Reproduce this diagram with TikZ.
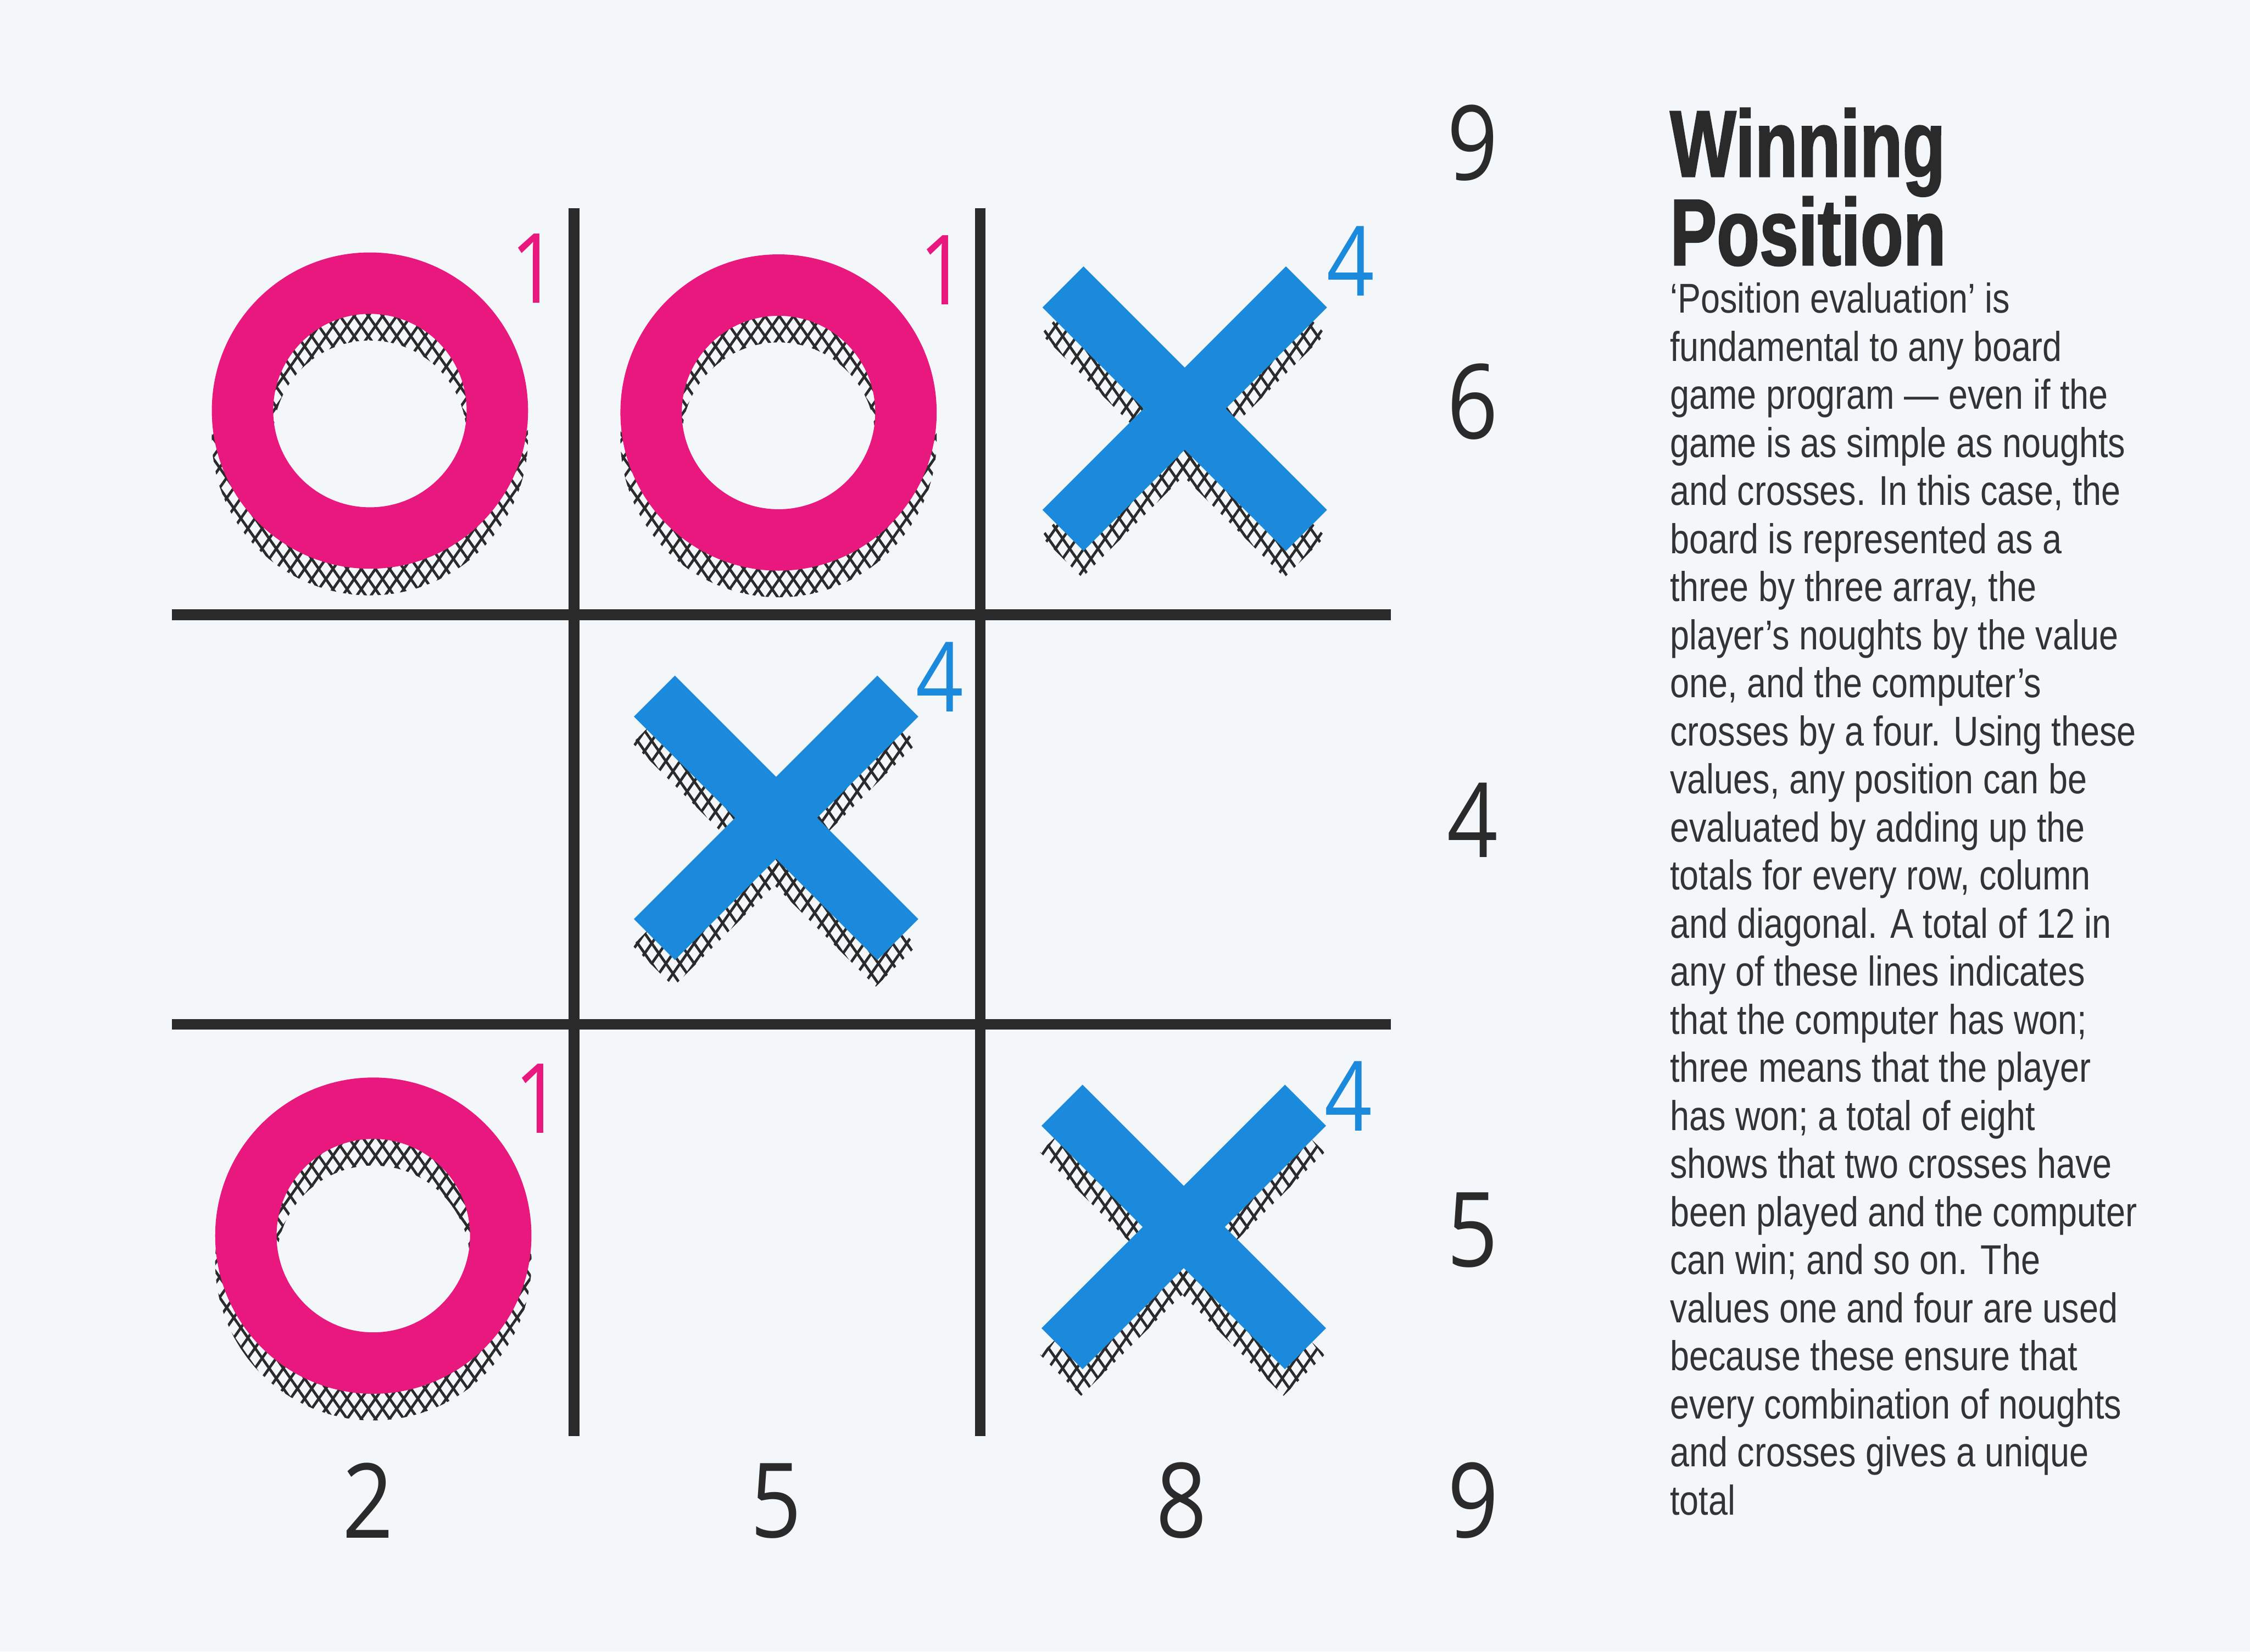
\documentclass[tikz,border=0pt]{standalone}
\usepackage{fontspec}
\usetikzlibrary{patterns.meta}
\setmainfont{Liberation Sans}
\newfontfamily\bodyfont[FakeStretch=0.83]{Liberation Sans}
\newfontfamily\titlefont[FakeStretch=0.74,FakeBold=1.5]{Liberation Sans}
\newfontfamily\digitfont[FakeStretch=0.86]{Open Sans}
\definecolor{bg}{HTML}{F3F7F9}
\definecolor{opink}{HTML}{E8187F}
\definecolor{xblue}{HTML}{1C8ADC}
\definecolor{ink}{HTML}{2A2A2A}
\definecolor{textink}{HTML}{333333}
\tikzset{
  gridline/.style={line width=0.22cm, draw=ink, line cap=butt},
  hatchA/.style={pattern={Lines[angle=55,distance=0.24cm,line width=0.055cm]}, pattern color=ink},
  hatchB/.style={pattern={Lines[angle=-55,distance=0.24cm,line width=0.055cm]}, pattern color=ink},
  noughtpic/.pic={
    \fill[hatchA, even odd rule] (0,-0.55) circle (3.27) (0,-0.55) circle (2.0);
    \fill[hatchB, even odd rule] (0,-0.55) circle (3.27) (0,-0.55) circle (2.0);
    \fill[opink, even odd rule] (0,0) circle (3.27) (0,0) circle (2.0);
  },
  crosspic/.pic={
    \begin{scope}[shift={(-0.03,-0.55)}]
      \foreach \a in {45,-45} {
        \fill[hatchA, rotate=\a] (-3.56,-0.6) rectangle (3.56,0.6);
        \fill[hatchB, rotate=\a] (-3.56,-0.6) rectangle (3.56,0.6);
      }
    \end{scope}
    \foreach \a in {45,-45} \fill[xblue, rotate=\a] (-3.56,-0.6) rectangle (3.56,0.6);
  },
  bigdigit/.style={inner sep=0, text=ink, font={\digitfont\fontsize{61}{70}\selectfont}},
  pinklabel/.style={inner sep=0, text=opink, font={\digitfont\fontsize{57}{65}\selectfont}},
  bluelabel/.style={inner sep=0, text=xblue, font={\digitfont\fontsize{57}{65}\selectfont}},
  titletext/.style={inner sep=0, anchor=base west, text=ink, font={\titlefont\bfseries\fontsize{55.6}{60}\selectfont}},
  bodytext/.style={inner sep=0, anchor=base west, text=textink, font={\bodyfont\fontsize{24.5}{28}\selectfont}}
}
\begin{document}
\begin{tikzpicture}
\useasboundingbox (0,0) rectangle (46.53,-34.15);
\fill[bg] (0,0) rectangle (46.53,-34.15);

% board
\draw[gridline] (11.87,-4.30) -- (11.87,-29.70);
\draw[gridline] (20.27,-4.30) -- (20.27,-29.70);
\draw[gridline] (3.56,-12.71) -- (28.76,-12.71);
\draw[gridline] (3.56,-21.18) -- (28.76,-21.18);

% pieces
\pic (o1) at (7.65,-8.49) {noughtpic};
\pic (o2) at (16.10,-8.53) {noughtpic};
\pic (o3) at (7.72,-25.55) {noughtpic};
\pic (x1) at (24.50,-8.45) {crosspic};
\pic (x2) at (16.05,-16.91) {crosspic};
\pic (x3) at (24.48,-25.37) {crosspic};

% piece values
\node[pinklabel] (v1) at (11.05,-5.55) {1};
\node[pinklabel] (v2) at (19.50,-5.58) {1};
\node[bluelabel] (v3) at (27.93,-5.40) {4};
\node[pinklabel] (v4) at (11.13,-22.72) {1};
\node[bluelabel] (v5) at (19.44,-14.00) {4};
\node[bluelabel] (v6) at (27.89,-22.66) {4};

% totals
\node[bigdigit] (r0) at (30.45,-2.95) {9};
\node[bigdigit] (r1) at (30.45,-8.30) {6};
\node[bigdigit] (r2) at (30.45,-16.96) {4};
\node[bigdigit] (r3) at (30.45,-25.43) {5};
\node[bigdigit] (r4) at (30.47,-31.03) {9};
\node[bigdigit] (c1) at (7.61,-31.03) {2};
\node[bigdigit] (c2) at (16.05,-31.03) {5};
\node[bigdigit] (c3) at (24.43,-31.03) {8};

% text
\node[titletext] (t1) at (34.53,-3.65) {Winning};
\node[titletext] (t2) at (34.53,-5.48) {Position};
\foreach \t [count=\i] in {
  {‘Position evaluation’ is},
  {fundamental to any board},
  {game program — even if the},
  {game is as simple as noughts},
  {and crosses. In this case, the},
  {board is represented as a},
  {three by three array, the},
  {player’s noughts by the value},
  {one, and the computer’s},
  {crosses by a four. Using these},
  {values, any position can be},
  {evaluated by adding up the},
  {totals for every row, column},
  {and diagonal. A total of 12 in},
  {any of these lines indicates},
  {that the computer has won;},
  {three means that the player},
  {has won; a total of eight},
  {shows that two crosses have},
  {been played and the computer},
  {can win; and so on. The},
  {values one and four are used},
  {because these ensure that},
  {every combination of noughts},
  {and crosses gives a unique},
  {total}}
  \node[bodytext] (b\i) at (34.53,{-6.47-(\i-1)*0.994}) {\t};
\end{tikzpicture}
\end{document}
